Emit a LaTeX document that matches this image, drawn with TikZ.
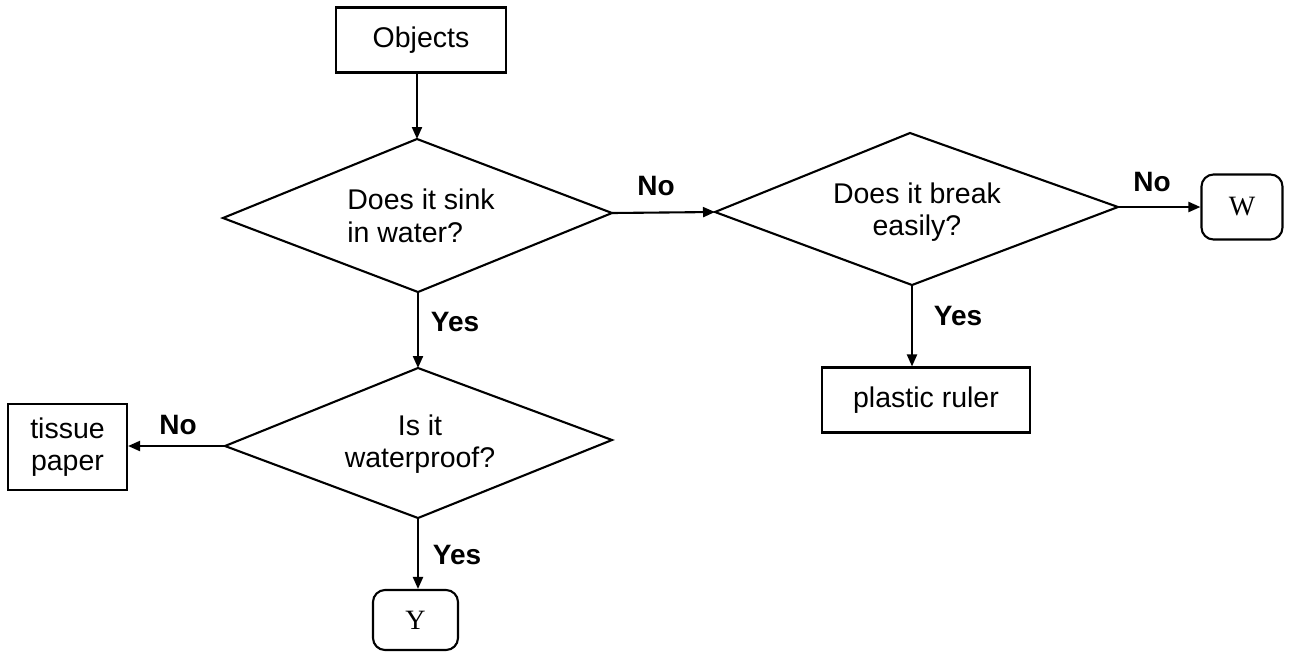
\documentclass[tikz,border=0pt]{standalone}
\usepackage{fontspec}
\setmainfont{Liberation Sans}
\newfontfamily\serifbox{Liberation Serif}
\usetikzlibrary{arrows.meta}
\begin{document}
\begin{tikzpicture}[x=1pt,y=-1pt,
  line width=2.1pt,
  arr/.style={-{Triangle[length=12pt,width=10pt]}},
  txt/.style={font=\fontsize{28.5}{32.5}\selectfont, inner sep=0pt},
  lbl/.style={font=\fontsize{28}{32}\selectfont\bfseries, inner sep=0pt},
  sqbox/.style={draw, rectangle, inner sep=0pt, font=\fontsize{28.5}{32.5}\selectfont},
  rbox/.style={draw, rectangle, rounded corners=12pt, inner sep=0pt, font=\serifbox\fontsize{28}{32}\selectfont}
]
\useasboundingbox (0,0) rectangle (1296,657);

% boxes
\node[sqbox, minimum width=170pt, minimum height=65pt] (obj) at (421,40) {Objects};
\node[rbox, minimum width=81pt, minimum height=65pt] (W) at (1242,207) {W};
\node[sqbox, minimum width=208pt, minimum height=65pt] (ruler) at (926,400) {plastic ruler};
\node[sqbox, minimum width=119pt, minimum height=86pt, align=center] (tissue) at (67.5,447) {tissue\\paper};
\node[rbox, minimum width=85pt, minimum height=60pt] (Y) at (415.5,620) {Y};

% diamond 1
\coordinate (d1t) at (417,139);
\coordinate (d1r) at (612,213);
\coordinate (d1b) at (418,292);
\coordinate (d1l) at (223,218);
\draw (d1t) -- (d1r) -- (d1b) -- (d1l) -- cycle;
\node[txt, align=left] (q1) at (421,216) {Does it sink\\in water?};

% diamond 2
\coordinate (d2t) at (910,133);
\coordinate (d2r) at (1118,207);
\coordinate (d2b) at (912,285);
\coordinate (d2l) at (715,212);
\draw (d2t) -- (d2r) -- (d2b) -- (d2l) -- cycle;
\node[txt, align=center] (q2) at (917,212) {Does it break\\easily?};

% diamond 3
\coordinate (d3t) at (418,368);
\coordinate (d3r) at (612,440);
\coordinate (d3b) at (418,518);
\coordinate (d3l) at (225,446);
\draw (d3t) -- (d3r) -- (d3b) -- (d3l) -- cycle;
\node[txt, align=center] (q3) at (420,444) {Is it\\waterproof?};

% connectors
\draw[arr] (obj.south -| d1t) -- (d1t);
\draw[arr] (d1r) -- (d2l);
\draw[arr] (d2r) -- (W.west);
\draw[arr] (d2b) -- (d2b |- ruler.north);
\draw[arr] (d1b) -- (d3t);
\draw[arr] (d3l) -- (d3l -| tissue.east);
\draw[arr] (d3b) -- (d3b |- Y.north);

% labels
\node[lbl] (l1) at (656,186) {No};
\node[lbl] (l2) at (1152,182) {No};
\node[lbl] (l3) at (455,322) {Yes};
\node[lbl] (l4) at (958,316) {Yes};
\node[lbl] (l5) at (178,425) {No};
\node[lbl] (l6) at (457,555) {Yes};
\end{tikzpicture}
\end{document}
